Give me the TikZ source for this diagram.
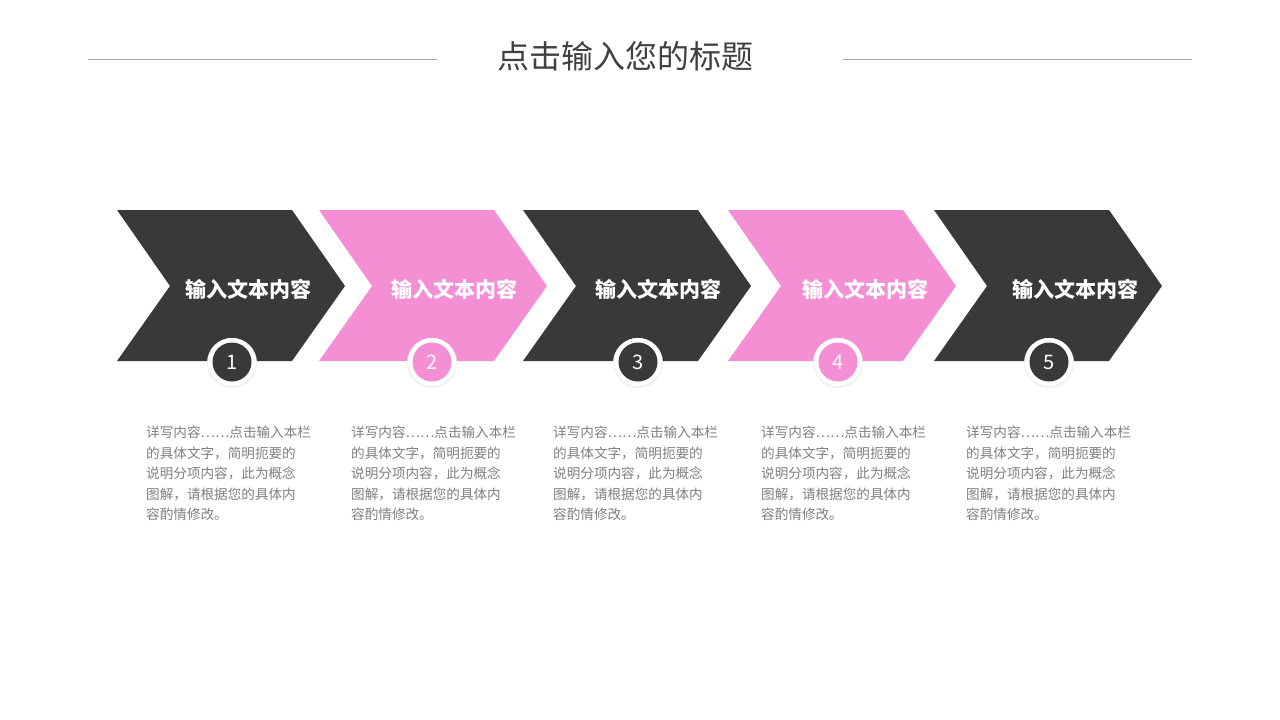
\documentclass[tikz,border=0pt]{standalone}
\usepackage{fontspec}
\setmainfont{Noto Sans CJK SC}
\definecolor{darkc}{HTML}{3B3839}
\definecolor{pinkc}{HTML}{F48FD4}
\definecolor{rulec}{HTML}{A6A6A6}
\definecolor{titlec}{HTML}{404040}
\definecolor{descc}{HTML}{7F7F7F}
\tikzset{
  chevlabel/.style={text=white,font=\fontsize{21}{24}\selectfont\bfseries,inner sep=0pt},
  numlabel/.style={text=white,font=\fontsize{20}{24}\selectfont,inner sep=0pt},
  desc/.style={text=descc,font=\fontsize{13.6}{20.5}\selectfont,align=left,inner sep=0pt,anchor=north west}
}

\begin{document}
\begin{tikzpicture}[x=1pt,y=-1pt]
\useasboundingbox (0,0) rectangle (1280,720);
\node[text=titlec,font=\fontsize{32}{36}\selectfont,inner sep=0pt] (title) at (625,56) {点击输入您的标题};
\draw[rulec,line width=1pt] (88,59) -- (437,59);
\draw[rulec,line width=1pt] (843,59) -- (1192,59);
\foreach \i/\x/\col/\cx/\lx/\dx in {1/117/darkc/232/248/146,2/319/pinkc/432/454/351,3/523/darkc/638/658/553,4/728/pinkc/838/865/761,5/934/darkc/1049/1075/966}{
  \coordinate (chev\i) at (\x,210);
  \fill[\col] (chev\i) -- ++(175,0) -- ++(53,76) -- ++(-53,75) -- ++(-175,0) -- ++(53,-75) -- cycle;
  \node[chevlabel] (label\i) at (\lx,289) {输入文本内容};
  \fill[black!6] (\cx,363) circle (25);
  \fill[white] (\cx,362) circle (24);
  \fill[\col] (\cx,362) circle (19.5);
  \node[numlabel] (num\i) at (\cx,362) {\i};
  \node[desc] (desc\i) at (\dx,426) {详写内容……点击输入本栏\\的具体文字，简明扼要的\\说明分项内容，此为概念\\图解，请根据您的具体内\\容酌情修改。};
}
\end{tikzpicture}
\end{document}
